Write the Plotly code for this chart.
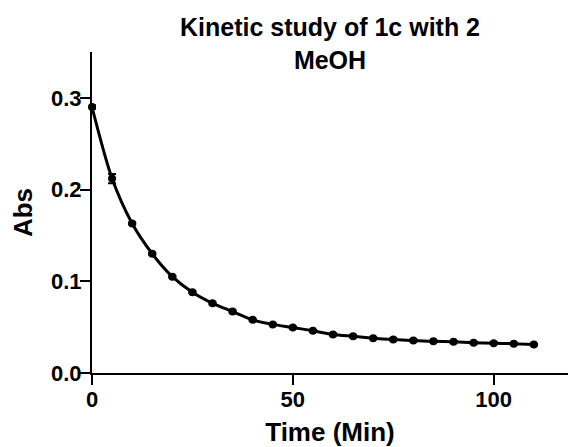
import plotly.graph_objects as go

time_min = [0, 5, 10, 15, 20, 25, 30, 35, 40, 45, 50, 55, 60, 65, 70, 75, 80, 85, 90, 95, 100, 105, 110]
abs_vals = [0.290, 0.212, 0.163, 0.130, 0.105, 0.088, 0.076, 0.067, 0.058, 0.053, 0.0496, 0.046, 0.042,
            0.040, 0.038, 0.0365, 0.0355, 0.0345, 0.034, 0.033, 0.0325, 0.032, 0.031]
abs_err = [0.002, 0.005, 0.001, 0.001, 0.001, 0.001, 0.001, 0.001, 0.001, 0.001, 0.001, 0.001, 0.001,
           0.001, 0.001, 0.001, 0.001, 0.001, 0.001, 0.001, 0.001, 0.001, 0.001]
x_ticks = [0, 50, 100]
y_ticks = [0.0, 0.1, 0.2, 0.3]

FONT = "Liberation Sans, Arial, sans-serif"

fig = go.Figure()
fig.add_trace(go.Scatter(
    x=time_min, y=abs_vals,
    mode="lines+markers",
    line=dict(color="black", width=3, shape="spline", smoothing=0.8),
    marker=dict(color="black", size=8),
    error_y=dict(type="data", array=abs_err, visible=True, color="black", thickness=2, width=4),
    showlegend=False,
    cliponaxis=False,
))

fig.update_layout(
    width=568, height=447, autosize=False,
    margin=dict(l=92, r=0, t=52, b=74, pad=0),
    paper_bgcolor="white", plot_bgcolor="white",
    font=dict(family=FONT, color="black"),
    title=dict(
        text="Kinetic study of 1c with 2<br>MeOH",
        font=dict(family=FONT, size=25, color="black", weight="bold"),
        x=0.5, xref="paper", xanchor="center",
        y=1 - 36 / 447, yref="container", yanchor="top",
    ),
    xaxis=dict(
        range=[0, 118.5], tickvals=x_ticks, ticktext=[str(v) for v in x_ticks],
        showline=True, linecolor="black", linewidth=2,
        ticks="outside", ticklen=10, tickwidth=2, tickcolor="black",
        ticklabelstandoff=-4,
        showgrid=False, zeroline=False,
        tickfont=dict(family=FONT, size=22, color="black", weight="bold"),
        title=dict(text="Time (Min)", font=dict(family=FONT, size=26, color="black", weight="bold"), standoff=12),
    ),
    yaxis=dict(
        range=[0, 0.35], tickvals=y_ticks, ticktext=[f"{v:.1f}" for v in y_ticks],
        showline=True, linecolor="black", linewidth=2,
        ticks="outside", ticklen=10, tickwidth=2, tickcolor="black",
        ticklabelstandoff=-6,
        showgrid=False, zeroline=False,
        tickfont=dict(family=FONT, size=22, color="black", weight="bold"),
        title=dict(text="Abs", font=dict(family=FONT, size=26, color="black", weight="bold"), standoff=11),
    ),
)

fig.write_html(
    "out.html",
    config={"displayModeBar": False},
    post_script="document.body.style.margin='0';document.body.style.overflow='hidden';",
)
